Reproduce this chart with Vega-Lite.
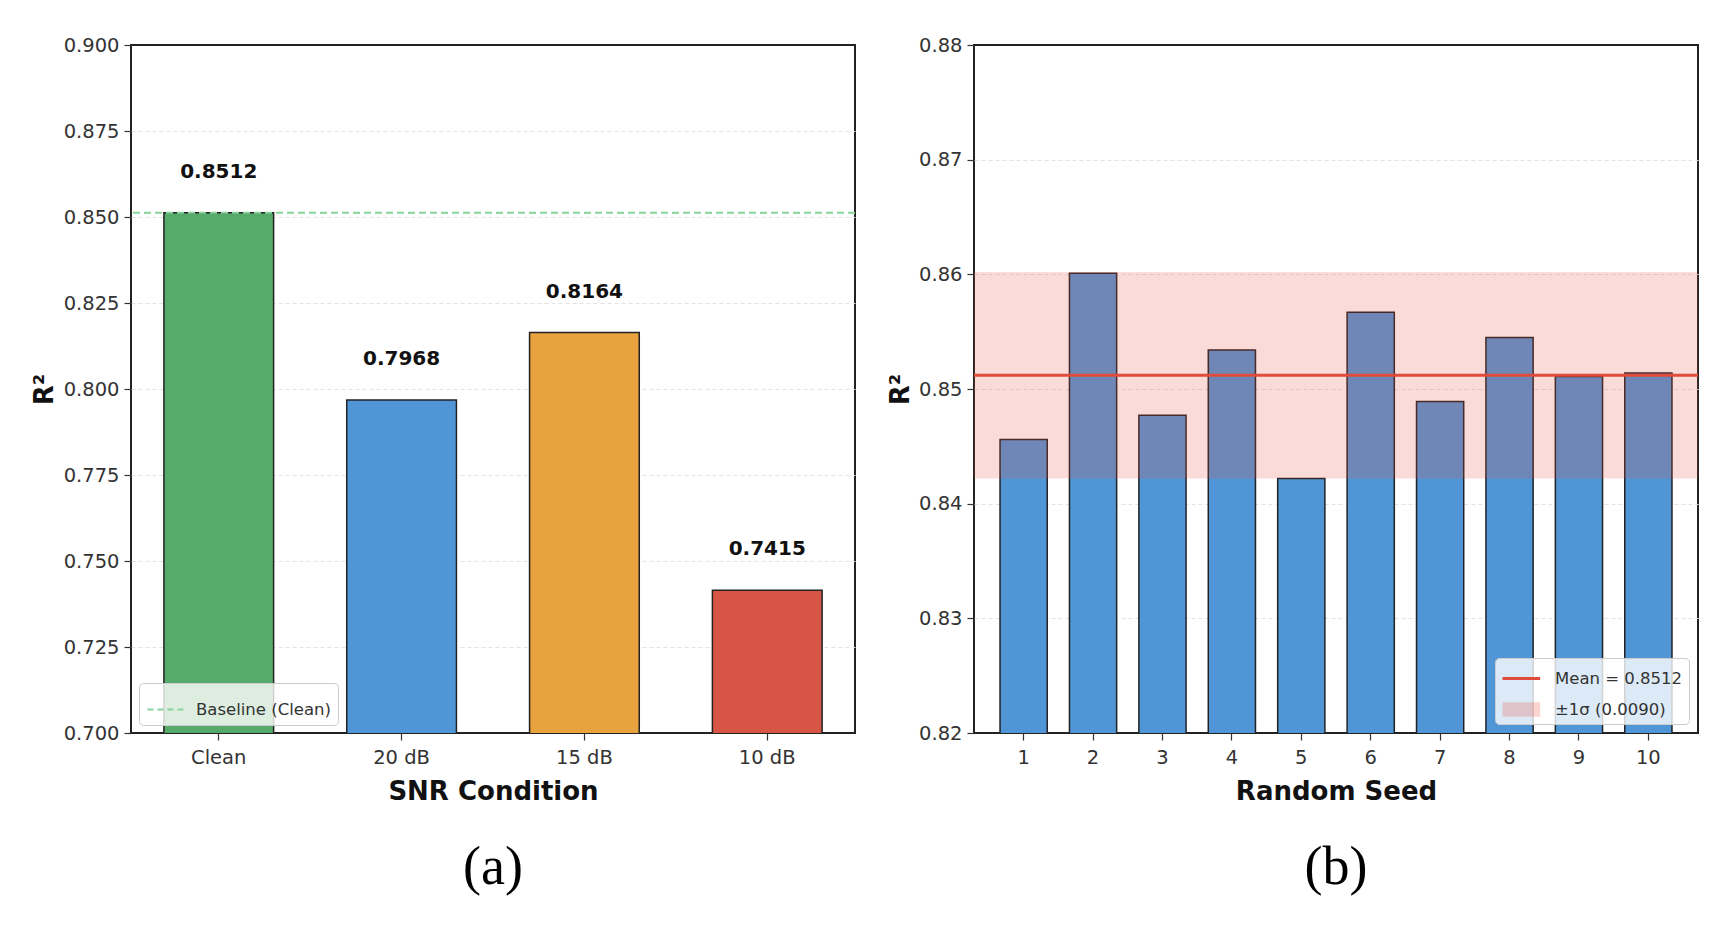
{
  "$schema": "https://vega.github.io/schema/vega-lite/v6.json",
  "background": "white",
  "padding": {"left": 30, "top": 34, "right": 5, "bottom": 5},
  "spacing": 29,
  "resolve": {"scale": {"color": "independent", "stroke": "independent"}, "legend": {"color": "independent", "stroke": "independent"}},
  "config": {
    "font": "DejaVu Sans",
    "view": {"stroke": "#222222", "strokeWidth": 2},
    "axis": {
      "labelFont": "DejaVu Sans", "labelFontSize": 19.5, "labelColor": "#333333",
      "tickColor": "#333333", "tickSize": 7, "tickWidth": 1.2, "domain": false,
      "titleFont": "DejaVu Sans", "titleFontWeight": "bold", "titleFontSize": 26, "titleColor": "#111111",
      "gridColor": "#e3e3e3", "gridDash": [4, 3], "gridWidth": 1
    },
    "axisX": {"grid": false, "labelAngle": 0, "labelPadding": 8, "titlePadding": 12},
    "axisY": {"labelPadding": 5, "titlePadding": 5.5},
    "legend": {
      "fillColor": "rgba(255,255,255,0.8)", "strokeColor": "#cccccc", "cornerRadius": 4,
      "padding": 7, "labelFont": "DejaVu Sans", "labelFontSize": 16.5, "labelColor": "#333333",
      "rowPadding": 4, "labelOffset": 11, "symbolSize": 1300, "title": null
    },
    "title": {"font": "Liberation Serif", "fontSize": 54, "fontWeight": "normal", "orient": "bottom", "anchor": "middle", "color": "#000000", "offset": 36}
  },
  "hconcat": [
    {
      "width": 724,
      "height": 688,
      "title": {"text": "(a)"},
      "data": {"values": [
        {"condition": "Clean", "r2": 0.8512},
        {"condition": "20 dB", "r2": 0.7968},
        {"condition": "15 dB", "r2": 0.8164},
        {"condition": "10 dB", "r2": 0.7415}
      ]},
      "layer": [
        {
          "mark": {"type": "bar", "stroke": "#222222", "strokeWidth": 1.5, "clip": true},
          "encoding": {
            "x": {"field": "condition", "type": "nominal", "sort": null, "scale": {"paddingInner": 0.4, "paddingOuter": 0.18}, "axis": {"title": "SNR Condition"}},
            "y": {"field": "r2", "type": "quantitative", "scale": {"domain": [0.7, 0.9], "zero": false, "nice": false},
              "axis": {"title": "R²", "values": [0.7, 0.725, 0.75, 0.775, 0.8, 0.825, 0.85, 0.875, 0.9], "format": ".3f",
                "gridOpacity": {"condition": {"test": "datum.value < 0.7001 || datum.value > 0.8999", "value": 0}, "value": 1}}},
            "color": {"field": "condition", "type": "nominal", "scale": {"domain": ["Clean", "20 dB", "15 dB", "10 dB"], "range": ["#57ab6a", "#5096d6", "#e8a23e", "#d65545"]}, "legend": null}
          }
        },
        {
          "mark": {"type": "text", "fontWeight": "bold", "fontSize": 20, "dy": -35, "baseline": "alphabetic", "color": "#111111"},
          "encoding": {
            "x": {"field": "condition", "type": "nominal", "sort": null},
            "y": {"field": "r2", "type": "quantitative"},
            "text": {"field": "r2", "type": "quantitative", "format": ".4f"}
          }
        },
        {
          "data": {"values": [{"baseline": 0.8512, "label": "Baseline (Clean)"}]},
          "mark": {"type": "rule", "strokeDash": [7, 4], "strokeWidth": 2},
          "encoding": {
            "y": {"field": "baseline", "type": "quantitative"},
            "stroke": {"field": "label", "type": "nominal", "scale": {"range": ["#86d39b"]},
              "legend": {"orient": "bottom-left", "offset": 8, "symbolType": "stroke", "symbolStrokeWidth": 2, "symbolDash": [6, 4]}}
          }
        }
      ]
    },
    {
      "width": 724,
      "height": 688,
      "title": {"text": "(b)"},
      "layer": [
        {
          "data": {"values": [
            {"seed": "1", "r2": 0.8456},
            {"seed": "2", "r2": 0.8601},
            {"seed": "3", "r2": 0.8477},
            {"seed": "4", "r2": 0.8534},
            {"seed": "5", "r2": 0.8422},
            {"seed": "6", "r2": 0.8567},
            {"seed": "7", "r2": 0.8489},
            {"seed": "8", "r2": 0.8545},
            {"seed": "9", "r2": 0.8511},
            {"seed": "10", "r2": 0.8514}
          ]},
          "mark": {"type": "bar", "stroke": "#222222", "strokeWidth": 1.5, "clip": true, "color": "#5096d6"},
          "encoding": {
            "x": {"field": "seed", "type": "nominal", "sort": null, "scale": {"paddingInner": 0.32, "paddingOuter": 0.375}, "axis": {"title": "Random Seed"}},
            "y": {"field": "r2", "type": "quantitative", "scale": {"domain": [0.82, 0.88], "zero": false, "nice": false},
              "axis": {"title": "R²", "values": [0.82, 0.83, 0.84, 0.85, 0.86, 0.87, 0.88], "format": ".2f",
                "gridOpacity": {"condition": {"test": "datum.value < 0.8201 || datum.value > 0.8799", "value": 0}, "value": 1}}}
          }
        },
        {
          "data": {"values": [{"lo": 0.8422, "hi": 0.8602, "label": "±1σ (0.0090)"}]},
          "mark": {"type": "rect", "opacity": 0.2},
          "encoding": {
            "y": {"field": "lo", "type": "quantitative"},
            "y2": {"field": "hi"},
            "color": {"field": "label", "type": "nominal"}
          }
        },
        {
          "data": {"values": [{"mean": 0.8512, "label": "Mean = 0.8512"}]},
          "mark": {"type": "rule", "strokeWidth": 3},
          "encoding": {
            "y": {"field": "mean", "type": "quantitative"},
            "color": {"field": "label", "type": "nominal",
              "scale": {"domain": ["Mean = 0.8512", "±1σ (0.0090)"], "range": ["#e04b3a", "#e74c3c"]},
              "legend": {"orient": "bottom-right", "offset": 9, "symbolSize": 676, "labelOffset": 25, "rowPadding": 8, "padding": 6,
                "encode": {"symbols": {"update": {
                  "shape": {"signal": "datum.value == 'Mean = 0.8512' ? 'M-1,0H1.9' : 'M-1,-0.55H1.9V0.55H-1Z'"},
                  "strokeOpacity": {"signal": "datum.value == 'Mean = 0.8512' ? 1 : 0"},
                  "fillOpacity": {"signal": "datum.value == 'Mean = 0.8512' ? 0 : 0.24"},
                  "strokeWidth": {"value": 3},
                  "opacity": {"value": 1}
                }}}}
            }
          }
        }
      ]
    }
  ]
}
